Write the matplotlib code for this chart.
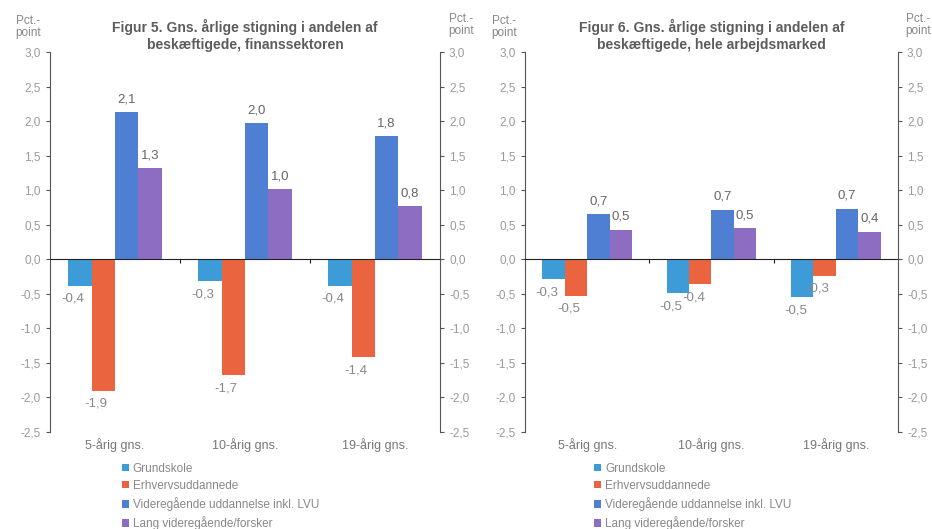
import numpy as np
import matplotlib.pyplot as plt
from matplotlib.transforms import blended_transform_factory

plt.rcParams['font.family'] = ['Liberation Sans', 'DejaVu Sans']

categories = ['5-årig gns.', '10-årig gns.', '19-årig gns.']
series_names = ['Grundskole', 'Erhvervsuddannede',
                'Videregående uddannelse inkl. LVU', 'Lang videregående/forsker']
colors = ['#3d9bd8', '#e9643f', '#4f7fd3', '#8c6dc1']

# Figur 5 - finanssektoren
fin_grund = [-0.38, -0.32, -0.38]
fin_erhv = [-1.90, -1.68, -1.42]
fin_vid = [2.13, 1.97, 1.78]
fin_lang = [1.32, 1.01, 0.77]
fin_labels = [['-0,4', '-0,3', '-0,4'], ['-1,9', '-1,7', '-1,4'],
              ['2,1', '2,0', '1,8'], ['1,3', '1,0', '0,8']]

# Figur 6 - hele arbejdsmarked
alle_grund = [-0.29, -0.49, -0.55]
alle_erhv = [-0.53, -0.36, -0.24]
alle_vid = [0.65, 0.72, 0.73]
alle_lang = [0.43, 0.45, 0.40]
alle_labels = [['-0,3', '-0,5', '-0,5'], ['-0,5', '-0,4', '-0,3'],
               ['0,7', '0,7', '0,7'], ['0,5', '0,5', '0,4']]

yticks = np.arange(-2.5, 3.01, 0.5)
gray = '#9a9a9a'
spine_col = '#555555'


def fmt(v):
    return f'{v:.1f}'.replace('.', ',')


def draw_panel(ax, series, labels, title):
    x = np.arange(len(categories))
    w = 0.18
    offsets = [-1.5 * w, -0.5 * w, 0.5 * w, 1.5 * w]
    for i, vals in enumerate(series):
        bars = ax.bar(x + offsets[i], vals, w, color=colors[i], label=series_names[i])
        for b, v, lab in zip(bars, vals, labels[i]):
            cx = b.get_x() + b.get_width() / 2
            if v >= 0:
                ax.text(cx, v + 0.1, lab, ha='center', va='bottom', fontsize=9.5, color='#666666')
            else:
                ax.text(cx - w * 0.3, v - 0.1, lab, ha='center', va='top', fontsize=9.5, color='#888888')

    ax.set_xlim(-0.5, 2.5)
    ax.set_ylim(-2.5, 3.0)
    ax.set_yticks(yticks)
    ax.set_yticklabels([fmt(t) for t in yticks], fontsize=8.5, color=gray)
    ax.tick_params(axis='y', direction='out', length=3, color=spine_col)

    ax.spines['top'].set_visible(False)
    ax.spines['right'].set_visible(False)
    ax.spines['left'].set_color(spine_col)
    ax.spines['bottom'].set_position(('data', 0))
    ax.spines['bottom'].set_color('#222222')
    ax.set_xticks([0.5, 1.5])
    ax.set_xticklabels([])
    ax.tick_params(axis='x', direction='out', length=3, color='#222222')

    tr = blended_transform_factory(ax.transData, ax.transAxes)
    for i, c in enumerate(categories):
        ax.text(i, -0.015, c, transform=tr, ha='center', va='top', fontsize=9, color='#777777')

    ax2 = ax.twinx()
    ax2.set_ylim(-2.5, 3.0)
    ax2.set_yticks(yticks)
    ax2.set_yticklabels([fmt(t) for t in yticks], fontsize=8.5, color=gray)
    ax2.tick_params(axis='y', direction='out', length=3, color=spine_col)
    for s in ['top', 'left', 'bottom']:
        ax2.spines[s].set_visible(False)
    ax2.spines['right'].set_color(spine_col)

    ax.text(-0.055, 1.035, 'Pct.-\npoint', transform=ax.transAxes, ha='center', va='bottom',
            fontsize=8.5, color='#888888', linespacing=1.0)
    ax.text(1.055, 1.04, 'Pct.-\npoint', transform=ax.transAxes, ha='center', va='bottom',
            fontsize=8.5, color='#888888', linespacing=1.0)
    ax.text(0.5, 1.0, title, transform=ax.transAxes, ha='center', va='bottom',
            fontsize=10, fontweight='bold', color='#5c5c5c', linespacing=1.25)

    ax.legend(loc='upper left', bbox_to_anchor=(0.17, -0.065), frameon=False, fontsize=8.5,
              handlelength=0.6, handleheight=0.6, handletextpad=0.3, labelspacing=0.45,
              labelcolor='#888888', borderpad=0)


fig = plt.figure(figsize=(9.32, 5.29), dpi=100)
ax_l = fig.add_axes([0.0536, 0.1834, 0.4185, 0.7183])
ax_r = fig.add_axes([0.5633, 0.1834, 0.4002, 0.7183])

draw_panel(ax_l, [fin_grund, fin_erhv, fin_vid, fin_lang], fin_labels,
           'Figur 5. Gns. årlige stigning i andelen af\nbeskæftigede, finanssektoren')
draw_panel(ax_r, [alle_grund, alle_erhv, alle_vid, alle_lang], alle_labels,
           'Figur 6. Gns. årlige stigning i andelen af\nbeskæftigede, hele arbejdsmarked')

fig.savefig('out.png', dpi=100)
